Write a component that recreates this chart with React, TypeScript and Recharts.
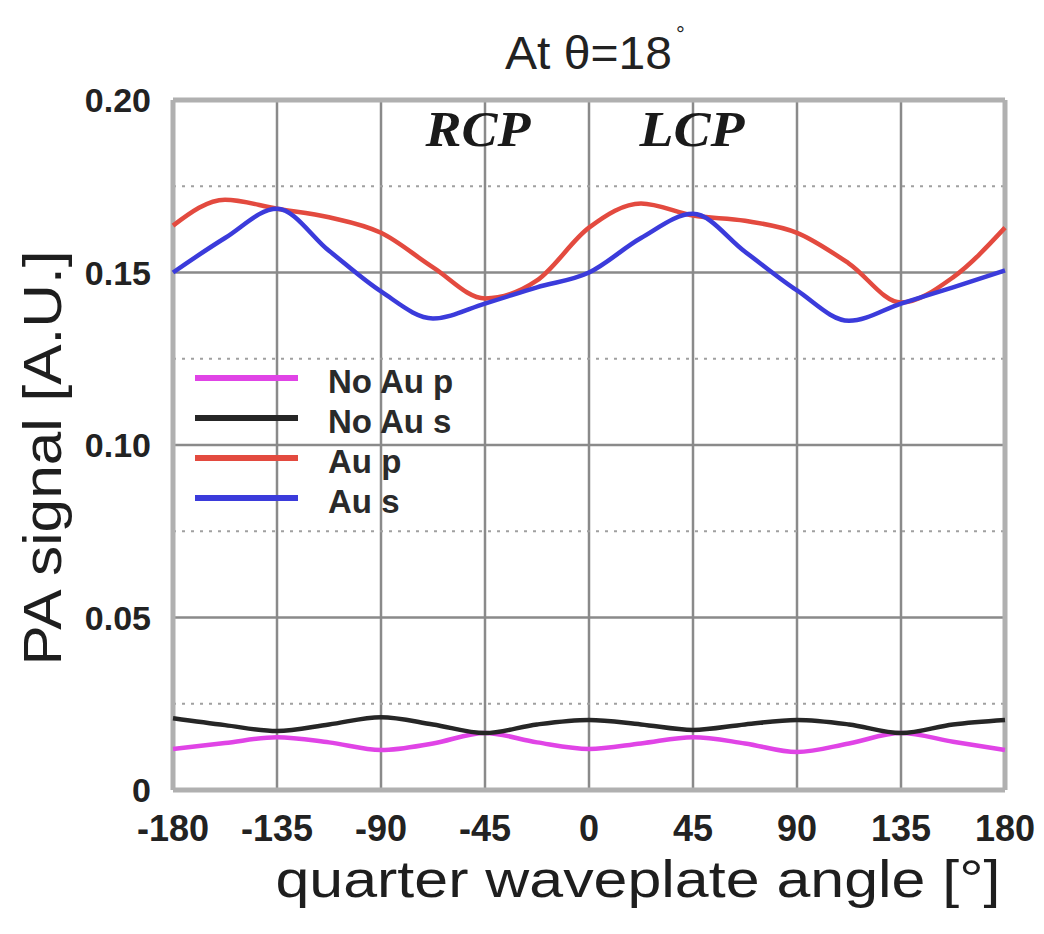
import React from 'react';
import {
  LineChart,
  Line,
  XAxis,
  YAxis,
  CartesianGrid,
  ReferenceLine,
  Legend,
} from 'recharts';

const angles = [-180, -157.5, -135, -112.5, -90, -67.5, -45, -22.5, 0, 22.5, 45, 67.5, 90, 112.5, 135, 157.5, 180];
const noAuP = [0.0119, 0.0136, 0.0153, 0.0138, 0.0116, 0.0135, 0.0165, 0.0138, 0.0119, 0.0135, 0.0153, 0.0135, 0.011, 0.0135, 0.0165, 0.014, 0.0116];
const noAuS = [0.0208, 0.0188, 0.0171, 0.019, 0.0211, 0.019, 0.0165, 0.019, 0.0203, 0.019, 0.0174, 0.019, 0.0203, 0.019, 0.0165, 0.019, 0.0203];
const auP = [0.1636, 0.1711, 0.1685, 0.166, 0.1615, 0.1515, 0.1425, 0.1477, 0.163, 0.17, 0.1665, 0.165, 0.1615, 0.1526, 0.1413, 0.1486, 0.163];
const auS = [0.15, 0.16, 0.1685, 0.1563, 0.1445, 0.1367, 0.141, 0.1457, 0.15, 0.16, 0.167, 0.156, 0.1448, 0.136, 0.141, 0.1457, 0.1506];

const xTicks = [-180, -135, -90, -45, 0, 45, 90, 135, 180];
const yTicks = [0, 0.05, 0.1, 0.15, 0.2];
const minorY = [0.025, 0.075, 0.125, 0.175];

const seriesNames = ['No Au p', 'No Au s', 'Au p', 'Au s'];
const seriesKeys = ['noAuP', 'noAuS', 'auP', 'auS'];
const seriesColors = ['#e044e6', '#262626', '#e34a3f', '#3b3bdb'];

const data = angles.map((a, i) => ({
  angle: a,
  noAuP: noAuP[i],
  noAuS: noAuS[i],
  auP: auP[i],
  auS: auS[i],
}));

const FONT = '"Liberation Sans", Arial, sans-serif';

const renderLegend = (props: any) => {
  const payload = [...(props.payload || [])].sort(
    (a: any, b: any) => seriesNames.indexOf(a.value) - seriesNames.indexOf(b.value)
  );
  return (
    <svg width={330} height={170} style={{ display: 'block' }}>
      {payload.map((p: any, i: number) => {
        const y = 23 + i * 40;
        return (
          <g key={i}>
            <line x1={5} x2={108} y1={y} y2={y} stroke={p.color} strokeWidth={6} />
            <text
              x={138}
              y={y + 3}
              dominantBaseline="central"
              fontFamily={FONT}
              fontWeight="bold"
              fontSize={33}
              fill="#2a2a2a"
            >
              {p.value}
            </text>
          </g>
        );
      })}
    </svg>
  );
};

export default function App() {
  return (
    <div style={{ position: 'absolute', left: 0, top: 0, width: 1044, height: 934, background: '#fff' }}>
      <LineChart
        width={1044}
        height={934}
        data={data}
        margin={{ top: 100, right: 39, bottom: 84, left: 0 }}
      >
        <CartesianGrid stroke="#8a8a8a" strokeWidth={2.5} />
        {minorY.map((v) => (
          <ReferenceLine key={v} y={v} stroke="#a0a0a0" strokeWidth={2} strokeDasharray="3 6" />
        ))}
        <ReferenceLine y={0} stroke="#b0b0b0" strokeWidth={5} />
        <ReferenceLine y={0.2} stroke="#b0b0b0" strokeWidth={5} />
        <ReferenceLine x={-180} stroke="#b0b0b0" strokeWidth={5} />
        <ReferenceLine x={180} stroke="#b0b0b0" strokeWidth={5} />
        <XAxis
          dataKey="angle"
          type="number"
          domain={[-180, 180]}
          ticks={xTicks}
          height={60}
          tickLine={false}
          axisLine={false}
          tickSize={0}
          tickMargin={25}
          tick={{ fontFamily: FONT, fontWeight: 'bold', fontSize: 36, fill: '#222' }}
          label={{
            content: () => (
              <text
                x={638}
                y={897}
                textAnchor="middle"
                fontFamily={FONT}
                fontSize={52}
                fill="#1e1e1e"
                textLength={725}
                lengthAdjust="spacingAndGlyphs"
              >
                quarter waveplate angle [°]
              </text>
            ),
          }}
        />
        <YAxis
          type="number"
          domain={[0, 0.2]}
          ticks={yTicks}
          width={173}
          tickLine={false}
          axisLine={false}
          tickSize={0}
          tickMargin={22}
          tickFormatter={(v: number) => (v === 0 ? '0' : v.toFixed(2))}
          tick={{ fontFamily: FONT, fontWeight: 'bold', fontSize: 34, fill: '#222' }}
          label={{
            content: () => (
              <text
                x={0}
                y={0}
                transform="translate(61 458) rotate(-90)"
                textAnchor="middle"
                fontFamily={FONT}
                fontSize={54}
                fill="#1e1e1e"
                textLength={415}
                lengthAdjust="spacingAndGlyphs"
              >
                PA signal [A.U.]
              </text>
            ),
          }}
        />
        <Legend
          layout="vertical"
          align="center"
          verticalAlign="middle"
          content={renderLegend}
          wrapperStyle={{ position: 'absolute', left: 190, top: 355, width: 330, height: 170 }}
        />
        {seriesKeys.map((k, i) => (
          <Line
            key={k}
            dataKey={k}
            name={seriesNames[i]}
            stroke={seriesColors[i]}
            strokeWidth={4.5}
            type="monotone"
            dot={false}
            isAnimationActive={false}
          />
        ))}
      </LineChart>
      <svg
        width={1044}
        height={934}
        style={{ position: 'absolute', left: 0, top: 0, pointerEvents: 'none' }}
      >
        <text
          x={505}
          y={69}
          fontFamily={FONT}
          fontSize={46}
          fill="#222"
          textLength={167}
          lengthAdjust="spacingAndGlyphs"
        >
          At θ=18
        </text>
        <text x={676} y={42} fontFamily={FONT} fontSize={22} fill="#222">
          °
        </text>
        <text
          x={478}
          y={146}
          textAnchor="middle"
          fontFamily='"Liberation Serif", "DejaVu Serif", serif'
          fontWeight="bold"
          fontStyle="italic"
          fontSize={50}
          fill="#1a1a1a"
          textLength={105}
          lengthAdjust="spacingAndGlyphs"
        >
          RCP
        </text>
        <text
          x={692}
          y={146}
          textAnchor="middle"
          fontFamily='"Liberation Serif", "DejaVu Serif", serif'
          fontWeight="bold"
          fontStyle="italic"
          fontSize={50}
          fill="#1a1a1a"
          textLength={105}
          lengthAdjust="spacingAndGlyphs"
        >
          LCP
        </text>
      </svg>
    </div>
  );
}
